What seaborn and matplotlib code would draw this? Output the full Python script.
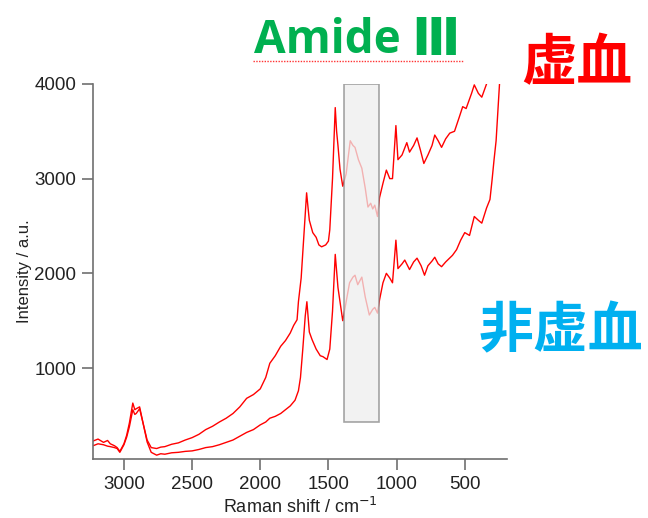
import matplotlib
matplotlib.use("Agg")
import matplotlib.pyplot as plt
import seaborn as sns
import pandas as pd
from matplotlib.patches import Rectangle
from matplotlib.lines import Line2D

# Raman spectra (shift in cm-1, intensity in a.u.)
shift_ischemia = [3225, 3190, 3150, 3120, 3100, 3070, 3050, 3030, 3000, 2980, 2960, 2935, 2920,
                  2910, 2885, 2860, 2830, 2800, 2760, 2730, 2700, 2650, 2600, 2550, 2500, 2450,
                  2400, 2350, 2300, 2250, 2200, 2150, 2100, 2050, 2000, 1960, 1930, 1890, 1850,
                  1815, 1780, 1755, 1730, 1720, 1700, 1680, 1660, 1650, 1640, 1615, 1590, 1570,
                  1550, 1520, 1500, 1490, 1470, 1450, 1440, 1430, 1415, 1395, 1370, 1340, 1320,
                  1305, 1280, 1255, 1230, 1210, 1190, 1175, 1160, 1140, 1125, 1100, 1075, 1050,
                  1030, 1005, 990, 960, 925, 905, 875, 850, 825, 800, 770, 740, 720, 695, 670,
                  640, 610, 575, 540, 515, 490, 475, 450, 430, 400, 375, 350, 340]
int_ischemia = [230, 250, 215, 235, 200, 180, 160, 120, 200, 290, 420, 630, 560,
                570, 590, 420, 240, 160, 150, 165, 170, 195, 210, 240, 265, 300,
                350, 385, 430, 470, 520, 590, 680, 720, 780, 900, 1050, 1130, 1230,
                1290, 1370, 1450, 1510, 1700, 1950, 2400, 2850, 2700, 2560, 2430, 2380, 2300,
                2280, 2300, 2340, 2460, 3000, 3750, 3500, 3350, 3100, 2920, 3050, 3400, 3350,
                3330, 3200, 3110, 2900, 2700, 2740, 2680, 2720, 2600, 2800, 2950, 3090, 3000,
                3000, 3560, 3200, 3250, 3380, 3280, 3350, 3430, 3300, 3160, 3250, 3350, 3460, 3400, 3330,
                3420, 3480, 3500, 3650, 3760, 3740, 3800, 3900, 3990, 3900, 3860, 3960, 4000]

shift_normal = [3225, 3190, 3150, 3120, 3100, 3070, 3050, 3030, 3000, 2980, 2960, 2935, 2920,
                2910, 2885, 2860, 2830, 2800, 2760, 2730, 2700, 2650, 2600, 2550, 2500, 2450,
                2400, 2350, 2300, 2250, 2200, 2150, 2100, 2050, 2000, 1960, 1930, 1890, 1850,
                1815, 1780, 1745, 1720, 1705, 1688, 1670, 1658, 1640, 1620, 1590, 1560, 1540,
                1510, 1490, 1470, 1450, 1430, 1415, 1395, 1370, 1345, 1320, 1305, 1285, 1255,
                1230, 1200, 1175, 1160, 1140, 1125, 1100, 1075, 1050, 1030, 1005, 990, 960,
                940, 905, 875, 850, 820, 795, 770, 740, 720, 695, 670, 640, 590, 560, 530,
                500, 465, 430, 400, 375, 340, 315, 300, 285, 270, 245]
int_normal = [180, 200, 190, 175, 170, 160, 150, 110, 190, 270, 380, 560, 510,
              520, 570, 420, 220, 110, 80, 95, 90, 105, 110, 120, 125, 140,
              160, 170, 190, 215, 240, 280, 320, 350, 400, 430, 470, 490, 520,
              560, 600, 660, 760, 900, 1200, 1550, 1700, 1380, 1300, 1200, 1130, 1120,
              1090, 1200, 1600, 2200, 1850, 1700, 1500, 1700, 1900, 1960, 1980, 1880, 1960,
              1750, 1560, 1620, 1640, 1580, 1720, 1900, 2000, 1950, 1900, 2350, 2050, 2100,
              2140, 2040, 2120, 2160, 2080, 1980, 2080, 2130, 2170, 2100, 2070, 2120, 2190, 2250, 2350,
              2430, 2400, 2600, 2560, 2530, 2690, 2780, 2980, 3200, 3400, 4000]

x_ticks = [3000, 2500, 2000, 1500, 1000, 500]
y_ticks = [1000, 2000, 3000, 4000]
amide3_band = (1383, 1126)   # cm-1
amide3_bottom = 430

df = pd.concat([
    pd.DataFrame({"shift": shift_ischemia, "intensity": int_ischemia, "sample": "虚血"}),
    pd.DataFrame({"shift": shift_normal, "intensity": int_normal, "sample": "非虚血"}),
])

sns.set_theme(style="ticks")
plt.rcParams["font.family"] = ["Liberation Sans", "DejaVu Sans"]

fig = plt.figure(figsize=(6.48, 5.18), dpi=100)
ax = fig.add_axes([0.1435, 0.114, 0.6385, 0.724])

sns.lineplot(data=df, x="shift", y="intensity", units="sample", estimator=None,
             color="#ff0000", linewidth=1.0, ax=ax, legend=False)

# Amide III band, drawn over the spectra
ax.add_patch(Rectangle((amide3_band[1], amide3_bottom), amide3_band[0] - amide3_band[1],
                       4000 - amide3_bottom, facecolor="#eeeeee", edgecolor="#888888",
                       linewidth=1.2, alpha=0.75, zorder=5))

ax.set_xlim(3227, 192)
ax.set_ylim(40, 4000)
ax.set_xticks(x_ticks)
ax.set_yticks(y_ticks)
sns.despine(ax=ax)
for s in ["left", "bottom"]:
    ax.spines[s].set_color("#707070")
    ax.spines[s].set_linewidth(1.2)
ax.tick_params(axis="both", direction="out", length=8, width=1.2, color="#707070",
               labelsize=13.5, labelcolor="#222222", pad=4)
ax.set_xlabel("Raman shift / cm$^{-1}$", fontsize=13, color="#222222", labelpad=3)
ax.set_ylabel("Intensity / a.u.", fontsize=12, color="#222222", labelpad=2)

jp = ["Noto Sans CJK JP", "DejaVu Sans"]
fig.text(0.618, 0.921, "Amide", family=["Open Sans", "DejaVu Sans"], fontsize=33,
         fontweight="bold", color="#00b050", ha="right", va="center")
fig.text(0.635, 0.921, "Ⅲ", family=["DejaVu Sans"], fontsize=37, fontweight="bold",
         color="#00b050", ha="left", va="center")
fig.add_artist(Line2D([0.39, 0.715], [0.882, 0.882], color="#ff3333", linewidth=1.0,
                      linestyle=(0, (1, 1))))
fig.text(0.89, 0.876, "虚血", family=jp, fontsize=40, fontweight="bold",
         color="#ff0000", ha="center", va="center")
fig.text(0.866, 0.362, "非虚血", family=jp, fontsize=39.5, fontweight="bold",
         color="#00b0f0", ha="center", va="center")

fig.savefig("out.png", dpi=100)
